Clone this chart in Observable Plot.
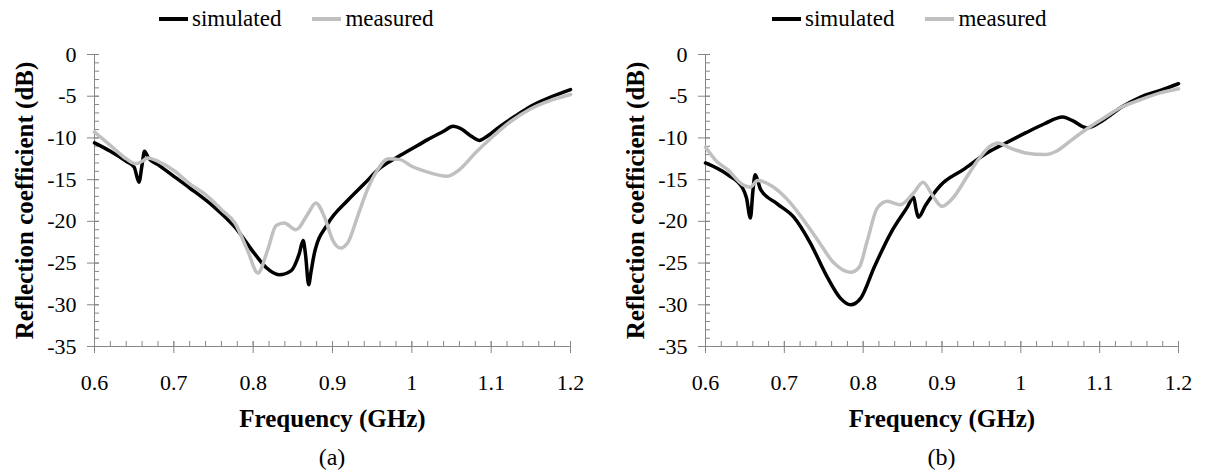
<!DOCTYPE html>
<html>
<head>
<meta charset="utf-8">
<script src="https://cdn.jsdelivr.net/npm/d3@7"></script>
<script src="https://cdn.jsdelivr.net/npm/@observablehq/plot@0.6"></script>
<style>
  body { margin: 0; background: #fff; }
  #root { position: relative; width: 1206px; height: 473px; font-family: "Liberation Serif", "DejaVu Serif", "Times New Roman", serif; color: #000; }
  .panel { position: absolute; top: 0; width: 603px; height: 473px; }
  .legend { position: absolute; top: 0; left: 0; height: 38px; display: flex; align-items: center; font-size: 23px; white-space: nowrap; }
  .item { display: flex; align-items: center; margin-right: 31px; }
  .swatch { width: 29px; height: 3.5px; margin-right: 4px; }
  .chart { position: absolute; top: 40px; left: 0; }
  .caption { position: absolute; top: 445px; height: 24px; line-height: 24px; font-size: 24px; text-align: center; }
  svg text { font-family: "Liberation Serif", "DejaVu Serif", "Times New Roman", serif; }
</style>
</head>
<body>
<div id="root"></div>
<script>
// ---- tick labels ----
const freqTicks = [0.6, 0.7, 0.8, 0.9, 1, 1.1, 1.2];
const dbTicks = [0, -5, -10, -15, -20, -25, -30, -35];
const seriesNames = ["simulated", "measured"];
const panelCaptions = ["(a)", "(b)"];
const xTitle = "Frequency (GHz)";
const yTitle = "Reflection coefficient (dB)";

// ---- panel (a) ----
const simA_f  = [0.600, 0.620, 0.640, 0.650, 0.656, 0.660, 0.663, 0.668, 0.680, 0.700, 0.720, 0.751, 0.777, 0.802, 0.816, 0.833, 0.848, 0.858, 0.863, 0.866, 0.870, 0.873, 0.877, 0.894, 0.919, 0.940, 0.960, 0.980, 1.000, 1.020, 1.040, 1.052, 1.062, 1.075, 1.085, 1.095, 1.110, 1.130, 1.150, 1.175, 1.200];
const simA_db = [-10.6, -11.6, -12.8, -13.5, -15.3, -13.2, -11.6, -12.4, -13.2, -14.6, -16.0, -18.3, -20.7, -23.9, -25.5, -26.4, -25.9, -23.9, -22.3, -24.0, -27.6, -26.0, -23.9, -20.3, -17.5, -15.5, -13.6, -12.4, -11.3, -10.2, -9.2, -8.6, -8.9, -9.8, -10.3, -9.8, -8.7, -7.4, -6.2, -5.1, -4.2];
const measA_f  = [0.600, 0.620, 0.640, 0.652, 0.660, 0.667, 0.680, 0.700, 0.720, 0.740, 0.760, 0.777, 0.793, 0.806, 0.818, 0.829, 0.839, 0.854, 0.869, 0.879, 0.890, 0.900, 0.910, 0.919, 0.932, 0.944, 0.957, 0.970, 0.985, 1.000, 1.020, 1.044, 1.060, 1.080, 1.100, 1.125, 1.150, 1.175, 1.200];
const measA_db = [-9.3, -10.9, -12.5, -13.1, -12.8, -12.4, -12.8, -13.9, -15.5, -16.8, -18.6, -20.2, -23.5, -26.2, -23.5, -20.5, -20.2, -21.0, -19.1, -17.8, -19.5, -22.2, -23.2, -22.6, -19.3, -16.2, -13.8, -12.5, -12.6, -13.4, -14.1, -14.6, -13.8, -11.8, -10.0, -8.0, -6.5, -5.5, -4.8];

// ---- panel (b) ----
const simB_f  = [0.600, 0.628, 0.647, 0.652, 0.657, 0.660, 0.663, 0.670, 0.691, 0.712, 0.733, 0.754, 0.771, 0.784, 0.797, 0.814, 0.835, 0.856, 0.864, 0.867, 0.870, 0.879, 0.898, 0.927, 0.957, 0.981, 1.006, 1.030, 1.053, 1.065, 1.084, 1.104, 1.128, 1.152, 1.177, 1.200];
const simB_db = [-13.0, -14.4, -16.0, -17.2, -19.6, -16.5, -14.4, -16.2, -17.9, -19.5, -22.6, -26.6, -29.2, -30.0, -29.2, -25.5, -21.4, -18.3, -17.1, -18.5, -19.5, -18.1, -15.7, -13.8, -11.8, -10.6, -9.4, -8.3, -7.5, -7.9, -8.8, -7.9, -6.3, -5.1, -4.3, -3.5];
const measB_f  = [0.600, 0.614, 0.628, 0.647, 0.657, 0.666, 0.683, 0.704, 0.721, 0.742, 0.763, 0.784, 0.795, 0.805, 0.818, 0.831, 0.847, 0.864, 0.876, 0.888, 0.900, 0.913, 0.932, 0.946, 0.961, 0.971, 0.986, 1.006, 1.030, 1.045, 1.065, 1.084, 1.104, 1.128, 1.152, 1.177, 1.200];
const measB_db = [-11.1, -12.8, -13.8, -15.6, -15.9, -15.1, -15.7, -17.4, -19.4, -22.2, -25.0, -26.1, -25.5, -22.4, -18.4, -17.6, -18.0, -16.6, -15.3, -16.9, -18.2, -17.3, -14.6, -12.6, -11.0, -10.6, -11.2, -11.8, -12.0, -11.6, -10.2, -8.9, -7.7, -6.3, -5.4, -4.6, -4.1];

// ---- styles ----
const FONT = '"Liberation Serif", "DejaVu Serif", "Times New Roman", serif';
const SIM_COLOR = "#000000";
const MEAS_COLOR = "#c0c0c0";
const AXIS_COLOR = "#868686";
const xMinor = d3.range(0, 31).map(i => +(0.6 + i * 0.02).toFixed(2));
const yMinor = d3.range(-35, 1);

function makePanel(sim_f, sim_db, meas_f, meas_db, ml, mr) {
  const W = 603, H = 390, mt = 14, mb = 84;
  const fw = W - ml - mr, fh = H - mt - mb;
  const sim = sim_f.map((f, i) => ({f, db: sim_db[i]}));
  const meas = meas_f.map((f, i) => ({f, db: meas_db[i]}));
  return Plot.plot({
    width: W, height: H,
    marginLeft: ml, marginRight: mr, marginTop: mt, marginBottom: mb,
    style: {fontFamily: FONT, background: "transparent", color: "#000", overflow: "visible"},
    x: {domain: [0.6, 1.2]},
    y: {domain: [-35, 0]},
    marks: [
      Plot.tickY(yMinor, {y: d => d, stroke: AXIS_COLOR, insetLeft: 0, insetRight: fw - 5}),
      Plot.tickY(dbTicks, {y: d => d, stroke: AXIS_COLOR, insetLeft: -7, insetRight: fw - 5}),
      Plot.tickX(xMinor, {x: d => d, stroke: AXIS_COLOR, insetTop: fh - 5, insetBottom: 0}),
      Plot.tickX(freqTicks, {x: d => d, stroke: AXIS_COLOR, insetTop: fh - 5, insetBottom: -7}),
      Plot.ruleX([0.6], {stroke: AXIS_COLOR}),
      Plot.ruleY([-35], {stroke: AXIS_COLOR}),
      Plot.axisY({ticks: dbTicks, tickSize: 0, tickPadding: 18, tickFormat: d => String(d), fontSize: 22, label: null}),
      Plot.axisX({ticks: freqTicks, tickSize: 0, tickPadding: 28, tickFormat: d => String(d), fontSize: 22, label: null}),
      Plot.line(sim, {x: "f", y: "db", stroke: SIM_COLOR, strokeWidth: 3.5, curve: "monotone-x"}),
      Plot.line(meas, {x: "f", y: "db", stroke: MEAS_COLOR, strokeWidth: 3.5, curve: "monotone-x"}),
      Plot.text([yTitle], {text: d => d, frameAnchor: "left", dx: -70, rotate: -90, textAnchor: "middle", lineAnchor: "middle", fontSize: 25, fontWeight: "bold"}),
      Plot.text([xTitle], {text: d => d, frameAnchor: "bottom", dy: 72, textAnchor: "middle", lineAnchor: "middle", fontSize: 25, fontWeight: "bold"})
    ]
  });
}

const panels = [
  {left: 0, ml: 94, mr: 33, legendLeft: 159, sim_f: simA_f, sim_db: simA_db, meas_f: measA_f, meas_db: measA_db},
  {left: 603, ml: 102, mr: 28, legendLeft: 169, sim_f: simB_f, sim_db: simB_db, meas_f: measB_f, meas_db: measB_db}
];

const root = document.getElementById("root");
panels.forEach((p, k) => {
  const div = document.createElement("div");
  div.className = "panel";
  div.style.left = p.left + "px";

  const legend = document.createElement("div");
  legend.className = "legend";
  legend.style.left = p.legendLeft + "px";
  [SIM_COLOR, MEAS_COLOR].forEach((c, i) => {
    const item = document.createElement("div");
    item.className = "item";
    const sw = document.createElement("span");
    sw.className = "swatch";
    sw.style.background = c;
    const t = document.createElement("span");
    t.textContent = seriesNames[i];
    item.appendChild(sw); item.appendChild(t);
    legend.appendChild(item);
  });
  div.appendChild(legend);

  const chart = document.createElement("div");
  chart.className = "chart";
  chart.appendChild(makePanel(p.sim_f, p.sim_db, p.meas_f, p.meas_db, p.ml, p.mr));
  div.appendChild(chart);

  const cap = document.createElement("div");
  cap.className = "caption";
  cap.style.left = p.ml + "px";
  cap.style.width = (603 - p.ml - p.mr) + "px";
  cap.textContent = panelCaptions[k];
  div.appendChild(cap);

  root.appendChild(div);
});
</script>
</body>
</html>
